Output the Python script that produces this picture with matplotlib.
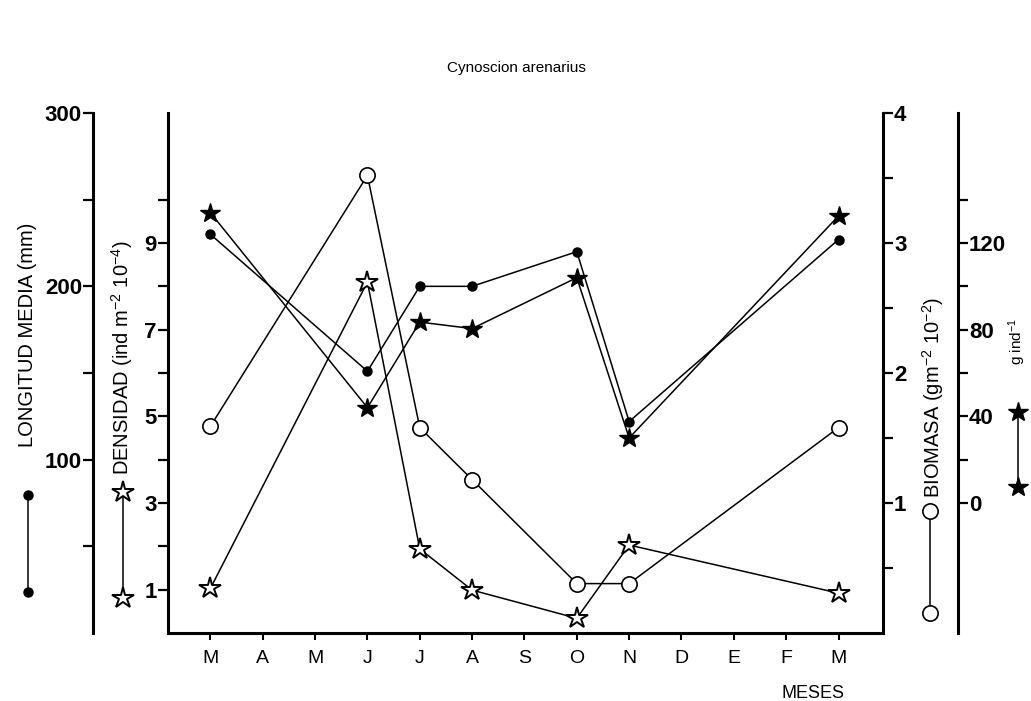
import matplotlib.pyplot as plt
from matplotlib.lines import Line2D

plt.rcParams['font.family'] = ['Liberation Sans', 'DejaVu Sans']
plt.rcParams['mathtext.default'] = 'regular'

# Datos (Cynoscion arenarius)
meses = ['M', 'A', 'M', 'J', 'J', 'A', 'S', 'O', 'N', 'D', 'E', 'F', 'M']
muestreo = [0, 3, 4, 5, 7, 8, 12]                      # índice del mes muestreado
longitud = [230, 151, 200, 200, 220, 122, 227]         # mm
densidad = [1.03, 8.1, 1.94, 0.99, 0.34, 2.03, 0.92]   # ind m-2 10-4
biomasa = [1.59, 3.52, 1.58, 1.18, 0.38, 0.38, 1.58]   # g m-2 10-2
peso = [134, 44, 83.5, 80.5, 104, 30, 132.5]           # g ind-1

W, H = 1031, 701
fig = plt.figure(figsize=(W / 100, H / 100), dpi=100)
x0, x1, y0, y1 = 168, 883, 113, 633
ax = fig.add_axes([x0 / W, 1 - y1 / H, (x1 - x0) / W, (y1 - y0) / H])
ax_lon = ax.twinx()
ax_bio = ax.twinx()
ax_g = ax.twinx()

for a in (ax, ax_lon, ax_bio, ax_g):
    for s in a.spines.values():
        s.set_visible(False)
        s.set_linewidth(2.2)
    a.tick_params(which='both', direction='out', length=7, width=1.6)

# eje meses + densidad
ax.spines['left'].set_visible(True)
ax.spines['bottom'].set_visible(True)
ax.set_xlim(-0.81, 12.85)
ax.set_xticks(range(len(meses)))
ax.set_xticklabels(meses, fontsize=14)
ax.tick_params(axis='x', length=5, width=1.5, pad=7)
ax.set_ylim(0, 12)
ax.set_yticks([1, 3, 5, 7, 9])
ax.set_yticks([2, 4, 6, 8, 10], minor=True)

# longitud media
ax_lon.set_ylim(0, 300)
ax_lon.yaxis.set_ticks_position('left')
ax_lon.yaxis.set_label_position('left')
ax_lon.spines['left'].set_visible(True)
ax_lon.spines['left'].set_position(('outward', 54))
ax_lon.set_yticks([100, 200, 300])
ax_lon.set_yticks([50, 150, 250], minor=True)

# biomasa
ax_bio.set_ylim(0, 4)
ax_bio.spines['right'].set_visible(True)
ax_bio.set_yticks([1, 2, 3, 4])
ax_bio.set_yticks([0.5, 1.5, 2.5, 3.5], minor=True)

# g ind-1
ax_g.set_ylim(-60, 180)
ax_g.spines['right'].set_visible(True)
ax_g.spines['right'].set_position(('outward', 54))
ax_g.set_yticks([0, 40, 80, 120])
ax_g.set_yticks([20, 60, 100, 140], minor=True)

for a in (ax, ax_lon, ax_bio, ax_g):
    a.tick_params(axis='y', labelsize=16, pad=1)
    for t in a.get_yticklabels():
        t.set_fontweight('bold')

ax_lon.plot(muestreo, longitud, '-o', color='k', lw=1.1, ms=6.5, clip_on=False)
ax.plot(muestreo, densidad, '-*', color='k', lw=1.1, ms=16, mfc='white',
        mec='k', mew=1.4, clip_on=False)
ax_bio.plot(muestreo, biomasa, '-o', color='k', lw=1.1, ms=11, mfc='white',
            mec='k', mew=1.2, clip_on=False)
ax_g.plot(muestreo, peso, '-*', color='k', lw=1.1, ms=15, clip_on=False)

# textos
def px(x, y):
    return x / W, 1 - y / H

fig.text(*px(516, 68), 'Cynoscion arenarius', ha='center', va='center',
         fontsize=11)
fig.text(*px(813, 693), 'MESES', ha='center', va='center', fontsize=13)
fig.text(*px(28, 335), 'LONGITUD MEDIA (mm)', rotation=90, ha='center',
         va='center', fontsize=14.5)
fig.text(*px(122, 358), 'DENSIDAD (ind m$^{-2}$ 10$^{-4}$)', rotation=90,
         ha='center', va='center', fontsize=14.5)
fig.text(*px(933, 398), 'BIOMASA (gm$^{-2}$ 10$^{-2}$)', rotation=90,
         ha='center', va='center', fontsize=14.5)
fig.text(*px(1017, 342), 'g ind$^{-1}$', rotation=90, ha='center',
         va='center', fontsize=11)

# claves de leyenda verticales
claves = [
    (28, 495, 592, dict(marker='o', ms=6.5, mfc='k')),
    (123, 492, 598, dict(marker='*', ms=16, mfc='white', mew=1.4)),
    (930, 511, 613, dict(marker='o', ms=11, mfc='white', mew=1.2)),
    (1018, 412, 487, dict(marker='*', ms=15, mfc='k')),
]
for x, ya, yb, estilo in claves:
    xa, ya_f = px(x, ya)
    _, yb_f = px(x, yb)
    fig.add_artist(Line2D([xa, xa], [ya_f, yb_f], transform=fig.transFigure,
                          color='k', lw=1.1, mec='k', **estilo))

fig.savefig('out.png', dpi=100)
